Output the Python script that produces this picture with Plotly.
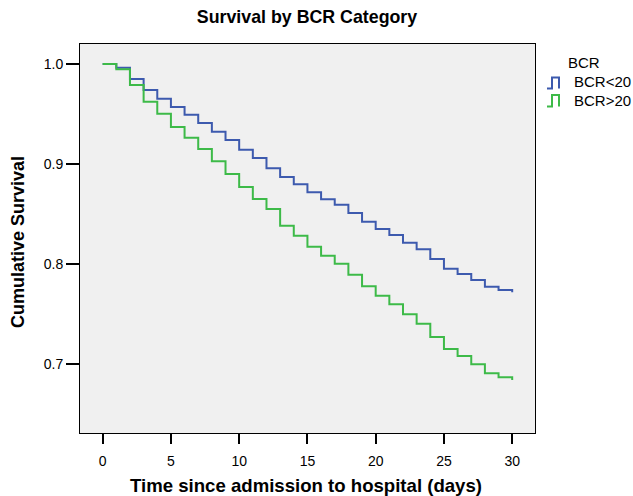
import plotly.graph_objects as go

days = list(range(0, 31))
bcr_lt20 = [1.0, 0.9963, 0.985, 0.974, 0.9653, 0.957, 0.9493, 0.941, 0.9323, 0.924,
            0.9143, 0.906, 0.8957, 0.887, 0.8797, 0.8717, 0.8647, 0.8593, 0.851, 0.8423,
            0.835, 0.829, 0.8213, 0.8147, 0.805, 0.7953, 0.79, 0.784, 0.7773, 0.774, 0.7717]
bcr_gt20 = [1.0, 0.9947, 0.979, 0.9623, 0.9503, 0.937, 0.9263, 0.915, 0.9027, 0.89,
            0.877, 0.865, 0.855, 0.8383, 0.8283, 0.8173, 0.8083, 0.8003, 0.7893, 0.7777,
            0.7683, 0.7597, 0.7497, 0.7403, 0.727, 0.715, 0.708, 0.6997, 0.6907, 0.6867, 0.684]
series_names = ["BCR<20", "BCR>20"]
x_ticks = [0, 5, 10, 15, 20, 25, 30]
y_ticks = [0.7, 0.8, 0.9, 1.0]
y_tick_labels = ["0.7", "0.8", "0.9", "1.0"]

BLUE = "#3D5AAE"
GREEN = "#3DBA48"
FONT = "Liberation Sans, Arial, sans-serif"

W, H = 633, 496
L, R, T, B = 80, 535, 44, 433

def px(x):
    return (x - L) / (R - L)

def py(y):
    return (B - y) / (B - T)

fig = go.Figure()
for name, vals, col in [(series_names[0], bcr_lt20, BLUE), (series_names[1], bcr_gt20, GREEN)]:
    fig.add_trace(go.Scatter(x=days, y=vals, mode="lines", name=name,
                             line=dict(color=col, width=2, shape="hv"),
                             showlegend=False))

axis_common = dict(showgrid=False, zeroline=False, showline=True, linecolor="black",
                   linewidth=1, mirror=True, ticks="outside", tickcolor="black",
                   tickwidth=1.5, automargin=False,
                   tickfont=dict(family=FONT, size=14, color="black"))

fig.update_xaxes(range=[-1.66, 31.67], tickvals=x_ticks, ticklen=10, ticklabelstandoff=5,
                 **axis_common)
fig.update_yaxes(range=[0.631, 1.02], tickvals=y_ticks, ticktext=y_tick_labels, ticklen=13,
                 **axis_common)

# legend drawn manually with step icons
shapes = []
icons = [(BLUE, 88.5, 77.5), (GREEN, 106.5, 95.0)]
for col, yb, yt in icons:
    path = (f"M {px(547)},{py(yb)} L {px(552)},{py(yb)} L {px(552)},{py(yt)} "
            f"L {px(559)},{py(yt)} L {px(559)},{py(yb)}")
    shapes.append(dict(type="path", xref="paper", yref="paper", path=path,
                       line=dict(color=col, width=2)))

annotations = [
    dict(text="<b>Time since admission to hospital (days)</b>", x=px(306), y=py(486),
         xref="paper", yref="paper", xanchor="center", yanchor="middle", showarrow=False,
         font=dict(family=FONT, size=18.6, color="black")),
    dict(text="<b>Cumulative Survival</b>", x=px(18), y=py(242), textangle=-90,
         xref="paper", yref="paper", xanchor="center", yanchor="middle", showarrow=False,
         font=dict(family=FONT, size=18, color="black")),
    dict(text="BCR", x=px(566), y=py(62), xref="paper", yref="paper", xanchor="left",
         yanchor="middle", showarrow=False, font=dict(family=FONT, size=15, color="black")),
    dict(text=series_names[0], x=px(572), y=py(81.5), xref="paper", yref="paper", xanchor="left",
         yanchor="middle", showarrow=False, font=dict(family=FONT, size=15, color="black")),
    dict(text=series_names[1], x=px(572), y=py(100), xref="paper", yref="paper", xanchor="left",
         yanchor="middle", showarrow=False, font=dict(family=FONT, size=15, color="black")),
]

fig.update_layout(
    width=W, height=H,
    margin=dict(l=L, r=W - R, t=T, b=H - B, autoexpand=False),
    paper_bgcolor="white", plot_bgcolor="#F0F0F0",
    title=dict(text="<b>Survival by BCR Category</b>", x=307 / W, xanchor="center",
               y=1 - 17 / H, yanchor="middle", font=dict(family=FONT, size=17.8, color="black")),
    shapes=shapes, annotations=annotations, showlegend=False,
)

fig.write_html("out.html")
